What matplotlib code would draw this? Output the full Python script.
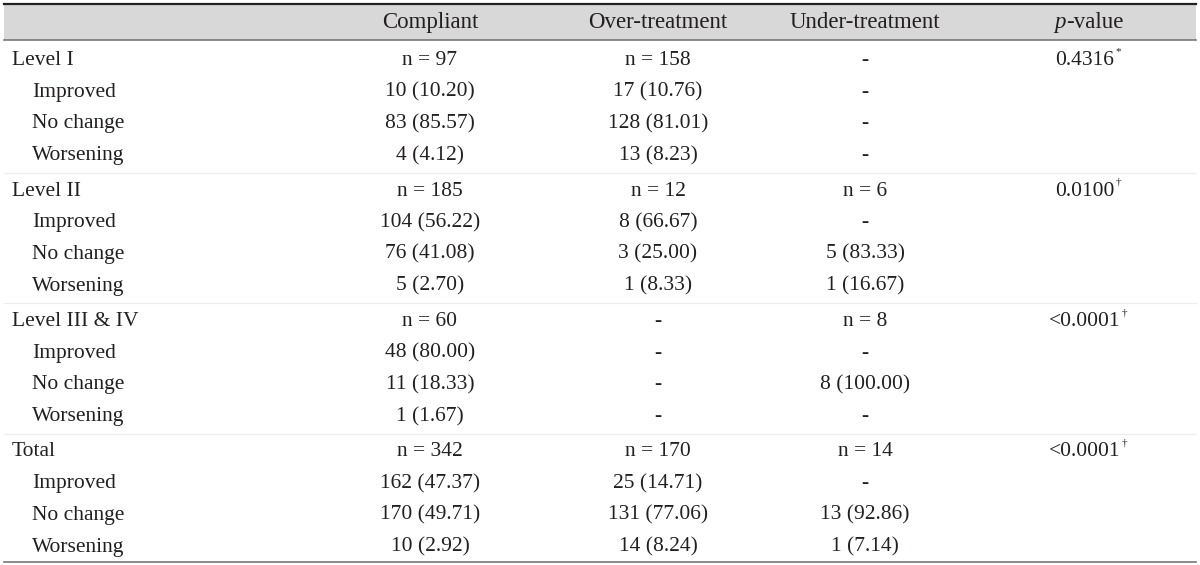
import matplotlib
matplotlib.use("Agg")
from matplotlib import pyplot as plt

plt.rcParams['font.family'] = ['Liberation Serif', 'DejaVu Serif']

# table contents
headers = ["Compliant", "Over-treatment", "Under-treatment"]
groups = ["Level I", "Level II", "Level III & IV", "Total"]
outcomes = ["Improved", "No change", "Worsening"]

compliant_n = [97, 185, 60, 342]
over_n = [158, 12, None, 170]
under_n = [None, 6, 8, 14]

compliant_cnt = [[10, 83, 4], [104, 76, 5], [48, 11, 1], [162, 170, 10]]
compliant_pct = [[10.20, 85.57, 4.12], [56.22, 41.08, 2.70], [80.00, 18.33, 1.67], [47.37, 49.71, 2.92]]
over_cnt = [[17, 128, 13], [8, 3, 1], [None, None, None], [25, 131, 14]]
over_pct = [[10.76, 81.01, 8.23], [66.67, 25.00, 8.33], [None, None, None], [14.71, 77.06, 8.24]]
under_cnt = [[None, None, None], [None, 5, 1], [None, 8, None], [None, 13, 1]]
under_pct = [[None, None, None], [None, 83.33, 16.67], [None, 100.00, None], [None, 92.86, 7.14]]

p_values = ["0.4316", "0.0100", "<0.0001", "<0.0001"]
p_marks = ["*", "\u2020", "\u2020", "\u2020"]

FS = 15.5     # body text
HFS = 16.5    # header text
INK = "#231f20"
col_x = [430, 658, 865]
p_x = 1085
BASE = 6      # baseline offset below row centre


def fmt_n(n):
    return "-" if n is None else "n = {}".format(n)


def fmt_cell(c, p):
    return "-" if c is None else "{} ({:.2f})".format(c, p)


def cell(x, y, s, ha="center"):
    return ax.text(x, y + BASE, s, ha=ha, va="baseline", fontsize=FS, color=INK)


fig = plt.figure(figsize=(12, 5.65), dpi=100)
ax = fig.add_axes([0, 0, 1, 1])
ax.set_xlim(0, 1200)
ax.set_ylim(565, 0)
ax.axis("off")

# header band and rules
ax.fill_between([4, 1196], 4, 40, color="#d8d8d8", lw=0)
ax.plot([4, 1196], [4, 4], color="#222222", lw=1.6)
ax.plot([4, 1196], [40, 40], color="#777777", lw=1.2)
ax.plot([4, 1196], [562, 562], color="#777777", lw=1.2)

for x, h in zip(col_x, headers):
    ax.text(x, 28, h, ha="center", va="baseline", fontsize=HFS, color=INK)
ax.text(1066, 28, "p", ha="right", va="baseline", fontsize=HFS, color=INK, style="italic")
ax.text(1066, 28, "-value", ha="left", va="baseline", fontsize=HFS, color=INK)

y0, gstep, rstep = 59, 130.5, 31.7
for g, name in enumerate(groups):
    y = y0 + g * gstep
    if g > 0:
        ax.plot([4, 1196], [y - 17, y - 17], color="#ececec", lw=0.8)
    cell(12, y, name, ha="left")
    cell(col_x[0], y, fmt_n(compliant_n[g]))
    cell(col_x[1], y, fmt_n(over_n[g]))
    cell(col_x[2], y, fmt_n(under_n[g]))
    t = cell(p_x, y, p_values[g])
    ax.annotate(p_marks[g], xy=(1.0, 0.95), xycoords=t, xytext=(0.5, 0), textcoords="offset points",
                ha="left", va="center", fontsize=8, color=INK)
    for r, o in enumerate(outcomes):
        yr = y + (r + 1) * rstep
        cell(32, yr, o, ha="left")
        cell(col_x[0], yr, fmt_cell(compliant_cnt[g][r], compliant_pct[g][r]))
        cell(col_x[1], yr, fmt_cell(over_cnt[g][r], over_pct[g][r]))
        cell(col_x[2], yr, fmt_cell(under_cnt[g][r], under_pct[g][r]))

fig.savefig("out.png", dpi=100)
